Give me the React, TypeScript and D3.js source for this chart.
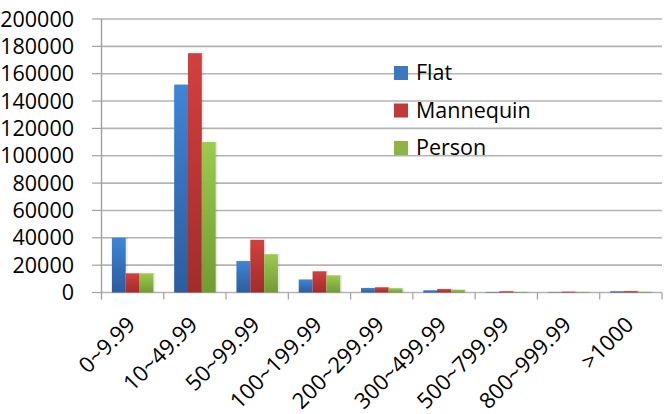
import React from "react";
import * as d3 from "d3";

const categories = ["0~9.99", "10~49.99", "50~99.99", "100~199.99", "200~299.99", "300~499.99", "500~799.99", "800~999.99", ">1000"];
const seriesNames = ["Flat", "Mannequin", "Person"];
const flat = [40000, 152000, 23000, 9500, 3300, 1600, 300, 200, 900];
const mannequin = [14000, 175000, 38500, 15500, 3800, 2500, 900, 600, 1000];
const person = [14000, 110000, 28000, 12500, 3100, 2000, 400, 300, 500];
const yTicks = [0, 20000, 40000, 60000, 80000, 100000, 120000, 140000, 160000, 180000, 200000];

const colors = [
  { top: "#3F85D6", bottom: "#2C5C9C", legend: "#3A78C4" },
  { top: "#D2403E", bottom: "#A12C2B", legend: "#C23A38" },
  { top: "#9CCB4E", bottom: "#729A35", legend: "#8DB543" },
];

const FONT = "'Open Sans', 'Noto Sans', sans-serif";

export default function App() {
  const W = 664, H = 414;
  const left = 101.5, right = 662, top = 19, bottom = 292.5;
  const x = d3.scaleBand<string>().domain(categories).range([left, right]).paddingInner(0).paddingOuter(0);
  const y = d3.scaleLinear().domain([0, 200000]).range([bottom, top]);
  const bw = x.bandwidth();
  const inner = d3.scaleBand<string>().domain(seriesNames).range([0, bw]).paddingOuter(0.75).paddingInner(0);
  const data = [flat, mannequin, person];

  return (
    <svg width={W} height={H} style={{ position: "absolute", left: 0, top: 0, background: "#fff" }}>
      <defs>
        {colors.map((c, i) => (
          <linearGradient key={i} id={`g${i}`} x1="0" y1="0" x2="0" y2="1">
            <stop offset="0" stopColor={c.top} />
            <stop offset="1" stopColor={c.bottom} />
          </linearGradient>
        ))}
      </defs>
      {/* gridlines */}
      {yTicks.map((t) => (
        <g key={t}>
          <line x1={left} x2={right} y1={y(t)} y2={y(t)} stroke="#b4b4b4" strokeWidth={1.6} />
          <line x1={92} x2={left} y1={y(t)} y2={y(t)} stroke="#a0a0a0" strokeWidth={1.2} />
          <text x={74} y={y(t)} dy="0.35em" textAnchor="end" fontFamily={FONT} fontSize={21.5} fill="#000">
            {t}
          </text>
        </g>
      ))}
      {/* y axis */}
      <line x1={left} x2={left} y1={top} y2={bottom + 7} stroke="#a0a0a0" strokeWidth={1.4} />
      {/* category ticks */}
      {categories.map((c) => (
        <line key={c} x1={(x(c) as number) + bw} x2={(x(c) as number) + bw} y1={bottom} y2={bottom + 7} stroke="#a0a0a0" strokeWidth={1.2} />
      ))}
      {/* bars */}
      {data.map((vals, si) =>
        vals.map((v, ci) => {
          const bx = (x(categories[ci]) as number) + (inner(seriesNames[si]) as number);
          const by = y(v);
          const h = bottom - by;
          return (
            <g key={`${si}-${ci}`}>
              <rect x={bx + 1} y={by - 0.5} width={inner.bandwidth() + 1} height={h + 0.5} fill="#000" opacity={0.08} />
              <rect x={bx} y={by} width={inner.bandwidth()} height={h} fill={`url(#g${si})`} />
            </g>
          );
        })
      )}
      {/* x labels */}
      {categories.map((c) => {
        const cx = (x(c) as number) + bw / 2 + 4;
        const cy = 326;
        return (
          <text key={c} x={cx} y={cy} transform={`rotate(-45 ${cx} ${cy})`} textAnchor="end" fontFamily={FONT} fontSize={22} fill="#000">
            {c}
          </text>
        );
      })}
      {/* legend */}
      {seriesNames.map((s, i) => (
        <g key={s} transform={`translate(394, ${66 + i * 37.5})`}>
          <rect x={0} y={0} width={14} height={14} fill={colors[i].legend} />
          <text x={22} y={14} fontFamily={FONT} fontSize={21.5} fill="#000">
            {s}
          </text>
        </g>
      ))}
    </svg>
  );
}
